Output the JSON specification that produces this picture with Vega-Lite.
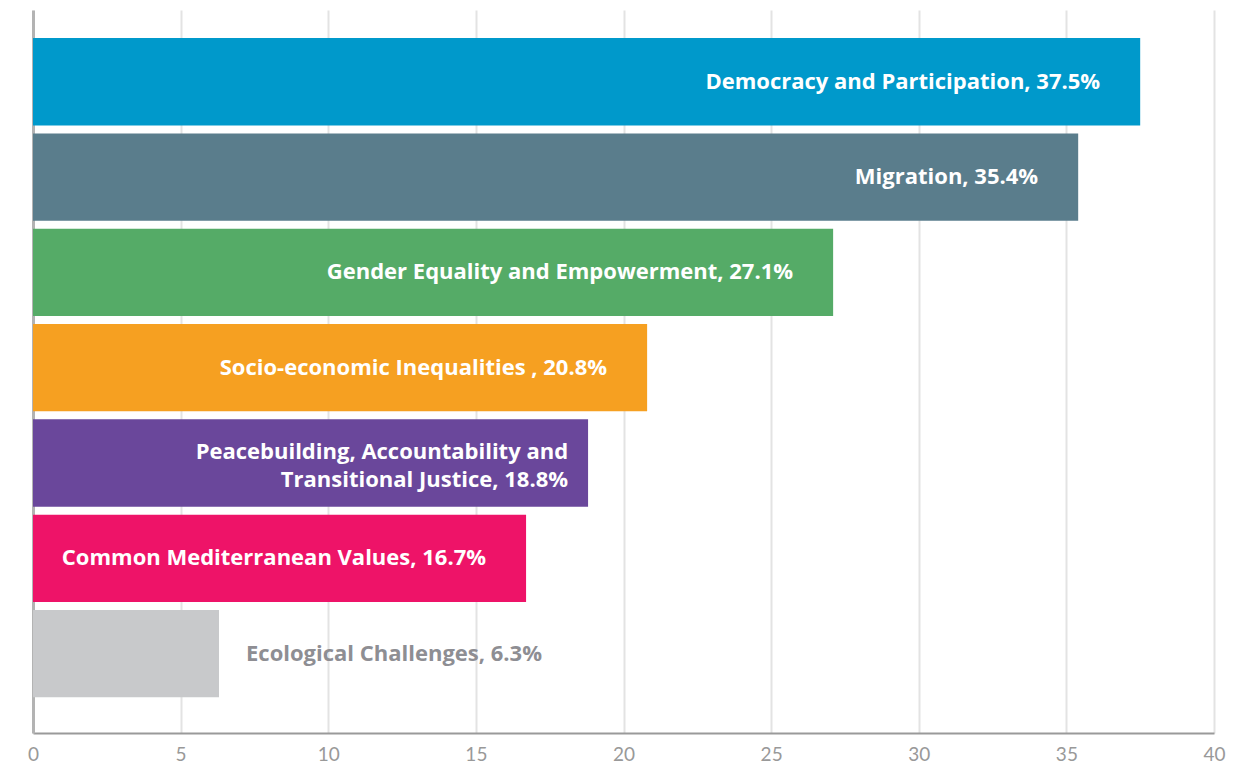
{
  "$schema": "https://vega.github.io/schema/vega-lite/v6.json",
  "width": 1181,
  "height": 723,
  "autosize": "none",
  "padding": {"left": 33, "top": 10, "right": 41, "bottom": 34},
  "background": "white",
  "config": {"view": {"stroke": null}, "font": "Open Sans"},
  "data": {"values": [
    {"topic": "Democracy and Participation", "value": 37.5, "label": "Democracy and Participation, 37.5%"},
    {"topic": "Migration", "value": 35.4, "label": "Migration, 35.4%"},
    {"topic": "Gender Equality and Empowerment", "value": 27.1, "label": "Gender Equality and Empowerment, 27.1%"},
    {"topic": "Socio-economic Inequalities", "value": 20.8, "label": "Socio-economic Inequalities , 20.8%"},
    {"topic": "Peacebuilding, Accountability and Transitional Justice", "value": 18.8, "label": ["Peacebuilding, Accountability and", "Transitional Justice, 18.8%"]},
    {"topic": "Common Mediterranean Values", "value": 16.7, "label": "Common Mediterranean Values, 16.7%"},
    {"topic": "Ecological Challenges", "value": 6.3, "label": "Ecological Challenges, 6.3%"}
  ]},
  "encoding": {
    "y": {"field": "topic", "type": "nominal", "sort": null,
      "scale": {"paddingInner": 0.084, "paddingOuter": 0.335, "align": 0.44},
      "axis": {"title": null, "labels": false, "ticks": false, "grid": false, "domain": true, "domainColor": "#b3b3b3", "domainWidth": 3}}
  },
  "layer": [
    {
      "mark": {"type": "bar"},
      "encoding": {
        "x": {"field": "value", "type": "quantitative",
          "scale": {"domain": [0, 40], "nice": false},
          "axis": {"title": null, "values": [0, 5, 10, 15, 20, 25, 30, 35, 40], "ticks": false, "grid": true, "gridColor": "#e3e3e3", "gridWidth": 2,
            "domainColor": "#9a9a9a", "domainWidth": 2, "labelColor": "#999999", "labelFontSize": 19, "labelPadding": 12, "labelFont": "Lato", "labelFlush": false}},
        "color": {"field": "topic", "type": "nominal", "legend": null,
          "scale": {"domain": ["Democracy and Participation", "Migration", "Gender Equality and Empowerment", "Socio-economic Inequalities", "Peacebuilding, Accountability and Transitional Justice", "Common Mediterranean Values", "Ecological Challenges"],
            "range": ["#0099cb", "#5a7d8c", "#55ab67", "#f6a021", "#6a479b", "#ee1368", "#c8c9cb"]}}
      }
    },
    {
      "transform": [{"filter": "datum.value > 10 && !isArray(datum.label)"}],
      "mark": {"type": "text", "align": "right", "baseline": "middle", "dx": -40, "color": "white", "fontWeight": "bold", "fontSize": 22},
      "encoding": {
        "x": {"field": "value", "type": "quantitative"},
        "text": {"field": "label"}
      }
    },
    {
      "transform": [{"filter": "isArray(datum.label)"}],
      "mark": {"type": "text", "align": "right", "baseline": "middle", "dx": -20, "dy": -11, "color": "white", "fontWeight": "bold", "fontSize": 22, "lineHeight": 28},
      "encoding": {
        "x": {"field": "value", "type": "quantitative"},
        "text": {"field": "label"}
      }
    },
    {
      "transform": [{"filter": "datum.value <= 10"}],
      "mark": {"type": "text", "align": "left", "baseline": "middle", "dx": 27, "color": "#8e8e93", "fontWeight": "bold", "fontSize": 22},
      "encoding": {
        "x": {"field": "value", "type": "quantitative"},
        "text": {"field": "label"}
      }
    }
  ]
}
